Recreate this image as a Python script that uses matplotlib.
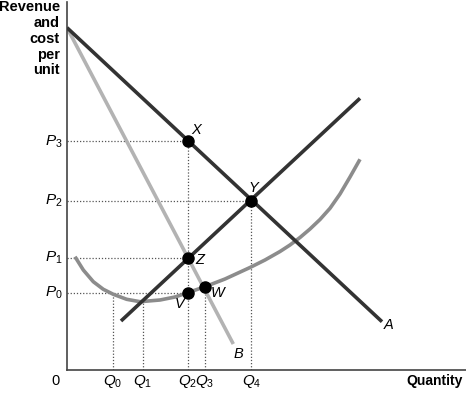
import matplotlib
matplotlib.use("Agg")
import matplotlib.pyplot as plt

plt.rcParams['font.family'] = ['Liberation Sans', 'DejaVu Sans']
plt.rcParams['mathtext.fontset'] = 'custom'
plt.rcParams['mathtext.it'] = 'Liberation Sans:italic'
plt.rcParams['mathtext.rm'] = 'Liberation Sans'

# ---- data (chart units) ----
demand_x = [0, 315]
demand_y = [342.3, 48.3]
mr_x = [0, 166.3]
mr_y = [342.3, 26]
mc_x = [54, 293]
mc_y = [49, 271.7]
atc_x = [8, 16.3, 26.3, 36.3, 46.3, 59.7, 73, 93, 108, 120.7, 138, 158, 183, 198, 213, 223, 233,
         243, 253, 263, 273, 283, 293]
atc_y = [113.3, 100, 88.3, 80.7, 75.7, 70.7, 68.3, 70, 73, 77.3, 83.3, 91, 102.5, 110, 118.5, 125,
         132.5, 141, 150.5, 161.7, 176, 193, 210.7]

p_labels = ['P_0', 'P_1', 'P_2', 'P_3']
p_values = [77, 112.5, 169.5, 228.7]
q_labels = ['Q_0', 'Q_1', 'Q_2', 'Q_3', 'Q_4']
q_values = [45.7, 75.7, 120.7, 138, 184.3]

point_names = ['X', 'Y', 'Z', 'V', 'W']
point_x = [120.7, 184.3, 120.7, 120.7, 138]
point_y = [228.7, 169.5, 112.5, 77, 83.3]

W, H = 466, 394
fig = plt.figure(figsize=(W / 100, H / 100), dpi=100)
ax = fig.add_axes([67 / W, 24 / H, 399 / W, 368 / H])
ax.set_xlim(0, 399)
ax.set_ylim(0, 368)
for s in ['top', 'right']:
    ax.spines[s].set_visible(False)
for s in ['left', 'bottom']:
    ax.spines[s].set_color('#444444')
    ax.spines[s].set_linewidth(1.2)
ax.set_xticks([])
ax.set_yticks([])

dot_kw = dict(color='#555555', lw=0.9, ls=(0, (1, 1.5)), zorder=1)
# horizontal guides
ax.plot([0, point_x[0]], [p_values[3]] * 2, **dot_kw)
ax.plot([0, point_x[1]], [p_values[2]] * 2, **dot_kw)
ax.plot([0, point_x[2]], [p_values[1]] * 2, **dot_kw)
ax.plot([0, point_x[3]], [p_values[0]] * 2, **dot_kw)
# vertical guides
ax.plot([q_values[0]] * 2, [0, p_values[0]], **dot_kw)
ax.plot([q_values[1]] * 2, [0, min(atc_y)], **dot_kw)
ax.plot([q_values[2]] * 2, [0, point_y[0]], **dot_kw)
ax.plot([q_values[3]] * 2, [0, point_y[4]], **dot_kw)
ax.plot([q_values[4]] * 2, [0, point_y[1]], **dot_kw)

ax.plot(mr_x, mr_y, color='#b3b3b3', lw=2.6, solid_capstyle='butt', zorder=2)
ax.plot(atc_x, atc_y, color='#8c8c8c', lw=2.6, solid_capstyle='butt',
        solid_joinstyle='round', zorder=2)
ax.plot(demand_x, demand_y, color='#333333', lw=2.6, solid_capstyle='butt', zorder=3)
ax.plot(mc_x, mc_y, color='#333333', lw=2.6, solid_capstyle='butt', zorder=3)

ax.plot(point_x, point_y, 'o', color='black', ms=8, zorder=5)

label_offsets = {'X': (8, 11), 'Y': (2, 12), 'Z': (12, -3), 'V': (-8, -11), 'W': (13, -6)}
for n, x, y in zip(point_names, point_x, point_y):
    dx, dy = label_offsets[n]
    ax.text(x + dx, y + dy, n, style='italic', fontsize=10.5, ha='center', va='center')

ax.text(322, 45, 'A', style='italic', fontsize=10.5, ha='center', va='center')
ax.text(171, 16.5, 'B', style='italic', fontsize=10.5, ha='center', va='center')

for lab, v in zip(p_labels, p_values):
    ax.text(-4, v, f'${lab}$', fontsize=11, ha='right', va='center')
for lab, v in zip(q_labels, q_values):
    ax.text(v, -12, f'${lab}$', fontsize=11, ha='center', va='center')

ax.text(-12, -11, '0', fontsize=10.5, ha='center', va='center')
ax.text(396, -11, 'Quantity', fontsize=10, fontweight='bold', ha='right', va='center')
ax.text(-7, 370, 'Revenue\nand\ncost\nper\nunit', fontsize=10.5, fontweight='bold',
        ha='right', va='top', multialignment='right', linespacing=1.17)

fig.savefig('out.png', dpi=100)
